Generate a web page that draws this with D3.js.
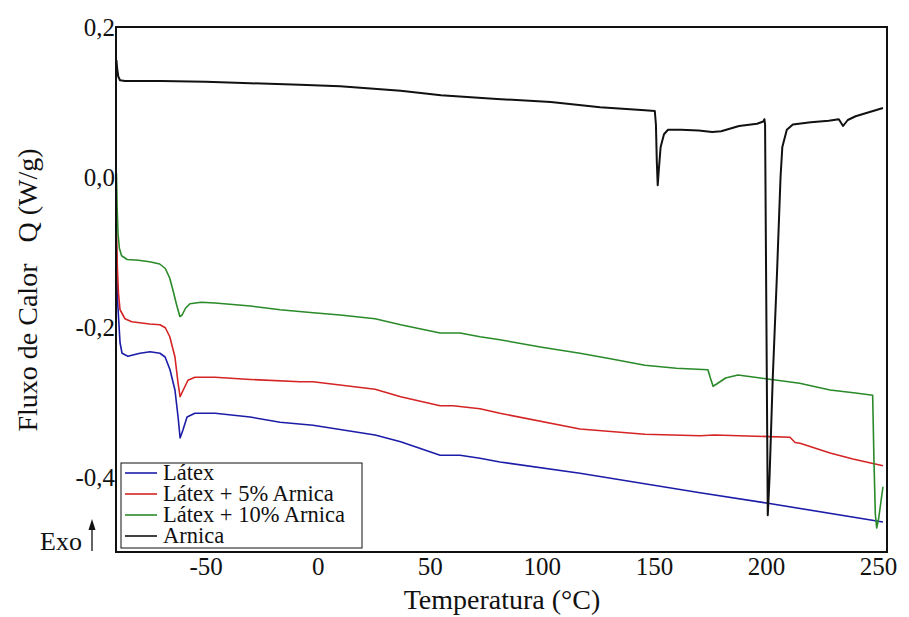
<!DOCTYPE html>
<html>
<head>
<meta charset="utf-8">
<script src="https://cdn.jsdelivr.net/npm/d3@7"></script>
<style>
  html, body { margin: 0; padding: 0; background: #fff; }
  svg { display: block; }
  text { font-family: "Liberation Serif", "Times New Roman", serif; fill: #111; }
</style>
</head>
<body>
<svg id="chart" width="909" height="617"></svg>
<script>
// ---- data (Temperatura °C, Q W/g) ----
const xTicks = [-50, 0, 50, 100, 150, 200, 250];
const yTicks = [-0.4, -0.2, 0.0, 0.2];
const seriesNames = ["Látex", "Látex + 5% Arnica", "Látex + 10% Arnica", "Arnica"];
const seriesColors = ["#1c1ca8", "#d42424", "#2a8a2a", "#111111"];

const latex = [
  [-89.8, -0.093], [-89.4, -0.16], [-88.2, -0.221], [-87.3, -0.235], [-84.7, -0.239],
  [-79.3, -0.235], [-74.8, -0.233], [-70.4, -0.235], [-68.1, -0.240], [-65.9, -0.257],
  [-63.7, -0.284], [-62.3, -0.320], [-61.4, -0.348], [-60.1, -0.337], [-58.3, -0.320],
  [-54.8, -0.315], [-45.8, -0.315], [-30.2, -0.320], [-16.8, -0.327], [-2.1, -0.331],
  [25.6, -0.344], [37, -0.353], [54.6, -0.371], [63.5, -0.371], [72.4, -0.375],
  [81.3, -0.380], [117, -0.395], [170.6, -0.421], [200.9, -0.435], [252.2, -0.460]
];

const latex5 = [
  [-89.8, -0.065], [-89.4, -0.12], [-88.9, -0.155], [-88.2, -0.177], [-86, -0.189],
  [-83, -0.193], [-75, -0.196], [-70.4, -0.197], [-68, -0.201], [-66, -0.213],
  [-63.7, -0.240], [-62.3, -0.275], [-61.4, -0.293], [-60, -0.284], [-57.9, -0.271],
  [-54.8, -0.267], [-45.8, -0.267], [-30, -0.270], [-7.9, -0.273], [-2.1, -0.273],
  [25.6, -0.283], [37, -0.293], [54.6, -0.305], [60.4, -0.305], [72.4, -0.309],
  [81.3, -0.315], [117, -0.336], [146, -0.343], [170.6, -0.345], [177, -0.344],
  [210.7, -0.347], [213, -0.354], [215.2, -0.355], [228.6, -0.368], [238.8, -0.376],
  [252.2, -0.385]
];

const latex10 = [
  [-89.8, 0.005], [-89.5, -0.04], [-89.1, -0.075], [-88.5, -0.095], [-87.5, -0.105],
  [-85, -0.110], [-80, -0.111], [-75, -0.113], [-70.5, -0.116], [-68, -0.122],
  [-66, -0.135], [-64.5, -0.152], [-63, -0.170], [-61.5, -0.186], [-60.5, -0.184],
  [-59, -0.175], [-57, -0.169], [-52, -0.167], [-45.8, -0.168], [-30, -0.172],
  [-16.8, -0.177], [-2, -0.181], [10, -0.184], [25.6, -0.189], [37, -0.197],
  [54.6, -0.208], [63.5, -0.208], [72.4, -0.213], [81.3, -0.217], [100, -0.227],
  [117, -0.235], [130, -0.242], [146, -0.251], [160, -0.255], [174.1, -0.257],
  [175.2, -0.268], [176.4, -0.279], [178, -0.276], [182, -0.268], [187.5, -0.264],
  [195, -0.267], [200, -0.269], [215, -0.275], [228.6, -0.284], [240, -0.288],
  [247.6, -0.291], [248.2, -0.38], [248.8, -0.45], [249.4, -0.468], [250.3, -0.455],
  [251.2, -0.435], [252.2, -0.413]
];

const arnica = [
  [-89.8, 0.156], [-89.5, 0.145], [-89.0, 0.134], [-88.2, 0.129], [-86, 0.128],
  [-70, 0.128], [-50, 0.127], [-30, 0.125], [-8, 0.123], [10, 0.121],
  [37, 0.115], [55, 0.109], [80, 0.104], [104, 0.100], [126, 0.093],
  [146, 0.089], [150.4, 0.088], [150.9, 0.07], [151.3, 0.02], [151.7, -0.011],
  [152.2, 0.010], [153, 0.040], [154.5, 0.057], [156.3, 0.063], [162, 0.063],
  [170, 0.062], [176, 0.060], [180, 0.061], [188, 0.068], [196, 0.071],
  [198.8, 0.074], [199.3, 0.077], [199.6, 0.070], [200.1, -0.15], [200.8, -0.451],
  [201.6, -0.40], [203, -0.27], [204.9, -0.13], [206.5, 0.00], [207.3, 0.04],
  [209.3, 0.063], [212, 0.070], [220, 0.073], [228, 0.075], [232.5, 0.077],
  [234.4, 0.068], [236.5, 0.076], [240, 0.081], [252.2, 0.092]
];

const allSeries = [latex, latex5, latex10, arnica];

// ---- layout ----
const svg = d3.select("#chart");
const pL = 116, pR = 887, pT = 27, pB = 552;

const x = d3.scaleLinear().domain([-90, 254]).range([pL, pR]);
const y = d3.scaleLinear().domain([-0.5, 0.2]).range([pB, pT]);

svg.append("defs").append("clipPath").attr("id", "plotclip")
  .append("rect").attr("x", pL).attr("y", pT)
  .attr("width", pR - pL).attr("height", pB - pT);

const line = d3.line().x(d => x(d[0])).y(d => y(d[1]));

const g = svg.append("g").attr("clip-path", "url(#plotclip)");
allSeries.forEach((s, i) => {
  g.append("path").datum(s)
    .attr("fill", "none")
    .attr("stroke", seriesColors[i])
    .attr("stroke-width", i === 3 ? 2 : 1.6)
    .attr("stroke-linejoin", "round")
    .attr("d", line);
});

// frame
svg.append("rect").attr("x", pL).attr("y", pT)
  .attr("width", pR - pL).attr("height", pB - pT)
  .attr("fill", "none").attr("stroke", "#111").attr("stroke-width", 2);

// axes
const fmtY = v => v.toFixed(1).replace(".", ",");
const fmtX = v => String(v);
const xAxis = svg.append("g").attr("transform", `translate(0,${pB})`)
  .call(d3.axisBottom(x).tickValues(xTicks).tickSize(0).tickPadding(5).tickFormat(fmtX));
xAxis.select(".domain").remove();
xAxis.selectAll("text").style("font-size", "25px").style("font-family", "Liberation Serif").attr("fill", "#111");

const yAxis = svg.append("g").attr("transform", `translate(${pL},0)`)
  .call(d3.axisLeft(y).tickValues(yTicks).tickSize(0).tickPadding(1).tickFormat(fmtY));
yAxis.select(".domain").remove();
yAxis.selectAll("text").style("font-size", "25px").style("font-family", "Liberation Serif").attr("fill", "#111");

// axis titles
svg.append("text").attr("x", 502).attr("y", 609)
  .attr("text-anchor", "middle").style("font-size", "28px")
  .text("Temperatura (°C)");

svg.append("text")
  .attr("transform", "translate(37,290) rotate(-90)")
  .attr("text-anchor", "middle").style("font-size", "28px")
  .attr("xml:space", "preserve")
  .text("Fluxo de Calor   Q (W/g)");

// Exo arrow
svg.append("text").attr("x", 40).attr("y", 550).style("font-size", "26px").text("Exo");
svg.append("line").attr("x1", 92).attr("x2", 92).attr("y1", 551).attr("y2", 526)
  .attr("stroke", "#111").attr("stroke-width", 1.3);
svg.append("path").attr("d", "M92,519 L88.5,530 L95.5,530 Z").attr("fill", "#111");

// legend
const lg = svg.append("g");
lg.append("rect").attr("x", 121).attr("y", 463).attr("width", 241).attr("height", 85)
  .attr("fill", "#fff").attr("stroke", "#111").attr("stroke-width", 1);
seriesNames.forEach((name, i) => {
  const yy = 473 + i * 21;
  lg.append("line").attr("x1", 125).attr("x2", 157).attr("y1", yy).attr("y2", yy)
    .attr("stroke", seriesColors[i]).attr("stroke-width", 1.6);
  lg.append("text").attr("x", 163).attr("y", yy + 7).style("font-size", "22.5px").text(name);
});
</script>
</body>
</html>
